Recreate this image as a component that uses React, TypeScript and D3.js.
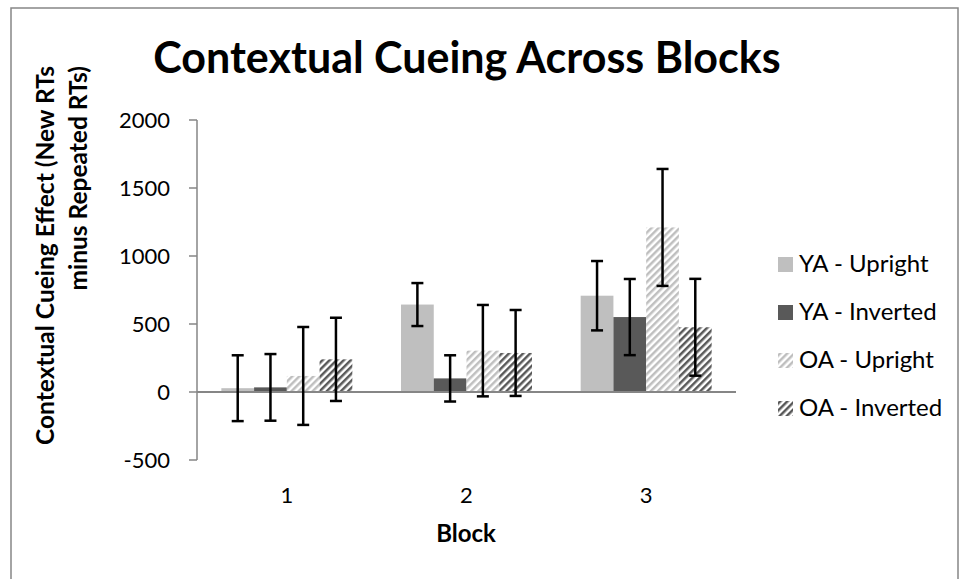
import React from "react";
import * as d3 from "d3";

// blocks on the x axis
const blocks = ["1", "2", "3"];
const series = ["YA - Upright", "YA - Inverted", "OA - Upright", "OA - Inverted"];

// mean contextual cueing effect (ms) per block, one array per series
const yaUpright = [28, 643, 708];
const yaInverted = [34, 100, 551];
const oaUpright = [118, 304, 1210];
const oaInverted = [240, 287, 476];

// error bar half-lengths
const yaUprightErr = [242, 158, 255];
const yaInvertedErr = [245, 170, 280];
const oaUprightErr = [360, 336, 430];
const oaInvertedErr = [306, 316, 356];

const yTicks = [-500, 0, 500, 1000, 1500, 2000];

const means = [yaUpright, yaInverted, oaUpright, oaInverted];
const errs = [yaUprightErr, yaInvertedErr, oaUprightErr, oaInvertedErr];
const fills = ["#bfbfbf", "#595959", "url(#stripeLight)", "url(#stripeDark)"];

const W = 960;
const H = 579;
const font = "Lato, 'Open Sans', sans-serif";
const axisColor = "#868686";

export default function App() {
  const left = 197, right = 736, top = 120, bottom = 460;

  const x0 = d3.scaleBand().domain(blocks).range([left, right])
    .paddingInner(0.271).paddingOuter(0.1355);
  const x1 = d3.scaleBand().domain(series).range([0, x0.bandwidth()]);
  const y = d3.scaleLinear().domain([-500, 2000]).range([bottom, top]);

  return (
    <svg width={W} height={H} style={{ position: "absolute", left: 0, top: 0 }}>
      <defs>
        <pattern id="stripeLight" patternUnits="userSpaceOnUse" width={5} height={5}
          patternTransform="rotate(45)">
          <rect width={5} height={5} fill="#fff" />
          <rect width={2.5} height={5} fill="#bfbfbf" />
        </pattern>
        <pattern id="stripeDark" patternUnits="userSpaceOnUse" width={5} height={5}
          patternTransform="rotate(45)">
          <rect width={5} height={5} fill="#fff" />
          <rect width={2.5} height={5} fill="#595959" />
        </pattern>
      </defs>
      <rect x={0} y={0} width={W} height={H} fill="#fff" />
      <rect x={11} y={8} width={947} height={620} fill="none" stroke={axisColor} strokeWidth={1.5} />

      <text x={467} y={73} textAnchor="middle" fontFamily={font} fontWeight="bold" fontSize={43}>
        Contextual Cueing Across Blocks
      </text>

      {/* y axis title, two lines */}
      <g fontFamily={font} fontWeight="bold" fontSize={24.5} textAnchor="end">
        <text transform="translate(54,66) rotate(-90)">Contextual Cueing Effect (New RTs</text>
        <text transform="translate(87,66) rotate(-90)">minus Repeated RTs)</text>
      </g>

      {/* bars */}
      {blocks.map((b, i) => (
        <g key={b} transform={`translate(${x0(b)},0)`}>
          {series.map((s, j) => {
            const v = means[j][i];
            return (
              <rect key={s} x={x1(s)} width={x1.bandwidth()}
                y={Math.min(y(v), y(0))} height={Math.abs(y(v) - y(0))} fill={fills[j]} />
            );
          })}
        </g>
      ))}

      {/* x axis at zero */}
      <line x1={left} x2={right} y1={y(0)} y2={y(0)} stroke={axisColor} strokeWidth={2} />

      {/* error bars */}
      {blocks.map((b, i) => (
        <g key={b} stroke="#000" strokeWidth={2.5}>
          {series.map((s, j) => {
            const cx = (x0(b) as number) + (x1(s) as number) + x1.bandwidth() / 2;
            const hi = y(means[j][i] + errs[j][i]);
            const lo = y(means[j][i] - errs[j][i]);
            return (
              <g key={s}>
                <line x1={cx} x2={cx} y1={hi} y2={lo} />
                <line x1={cx - 6} x2={cx + 6} y1={hi} y2={hi} />
                <line x1={cx - 6} x2={cx + 6} y1={lo} y2={lo} />
              </g>
            );
          })}
        </g>
      ))}

      {/* y axis */}
      <line x1={left} x2={left} y1={top} y2={bottom} stroke={axisColor} strokeWidth={1.5} />
      {yTicks.map((t) => (
        <g key={t}>
          <line x1={left - 8} x2={left} y1={y(t)} y2={y(t)} stroke={axisColor} strokeWidth={1.5} />
          <text x={170} y={y(t)} dy="0.35em" textAnchor="end" fontFamily={font} fontSize={22}>{t}</text>
        </g>
      ))}

      {/* category labels */}
      {blocks.map((b) => (
        <text key={b} x={(x0(b) as number) + x0.bandwidth() / 2} y={503} textAnchor="middle"
          fontFamily={font} fontSize={22}>{b}</text>
      ))}
      <text x={466} y={542} textAnchor="middle" fontFamily={font} fontWeight="bold" fontSize={24}>Block</text>

      {/* legend */}
      {series.map((s, j) => (
        <g key={s} transform={`translate(778,${272 + j * 48})`}>
          <rect x={0} y={-15} width={15} height={15} fill={fills[j]} />
          <text x={21} y={0} fontFamily={font} fontSize={24}>{s}</text>
        </g>
      ))}
    </svg>
  );
}
